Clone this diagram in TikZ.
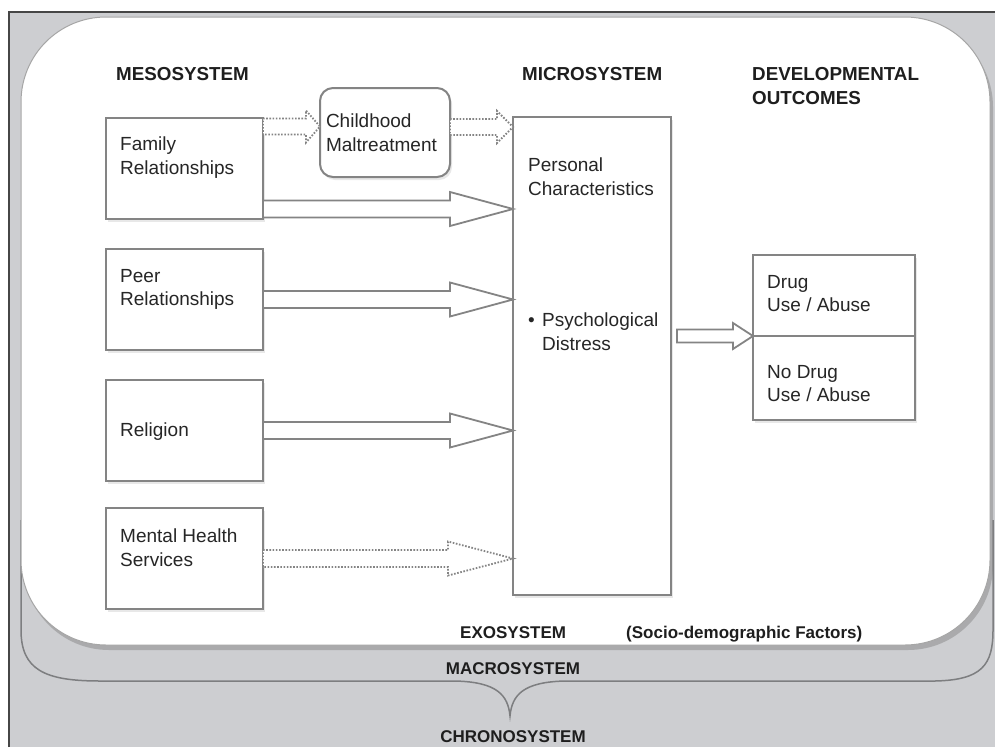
\documentclass[tikz,border=0pt]{standalone}
\usepackage{fontspec}
\setmainfont{Liberation Sans}
\usetikzlibrary{arrows.meta,positioning,shadows,calc}

\definecolor{bggray}{RGB}{205,206,209}
\definecolor{framegray}{RGB}{70,70,70}
\definecolor{linegray}{RGB}{132,132,132}
\definecolor{macgray}{RGB}{125,126,128}
\definecolor{txtgray}{RGB}{38,38,38}
\definecolor{hdrcol}{RGB}{30,30,30}

\newcommand{\boxfont}{\fontsize{19}{23.5}\selectfont}
\newcommand{\hdrfont}{\fontsize{18.8}{24}\selectfont\bfseries}
\newcommand{\sysfont}{\fontsize{17}{20}\selectfont\bfseries}

\begin{document}
\begin{tikzpicture}[
  x=1pt, y=-1pt,
  % --- shared box base ---
  boxbase/.style={
    draw=linegray, line width=2pt, fill=white,
    inner sep=0pt, outer sep=0pt,
    drop shadow={opacity=0.18, shadow xshift=2pt, shadow yshift=-3pt}
  },
  % --- box types ---
  meso/.style={boxbase, minimum width=157pt, minimum height=101pt},
  maltr/.style={boxbase, rounded corners=13pt, minimum width=130pt,
    minimum height=89pt, text width=118pt, inner xsep=6pt,
    align=left, font=\boxfont, text=txtgray},
  microbox/.style={boxbase, minimum width=158pt, minimum height=478pt},
  outbox/.style={boxbase, minimum width=162pt},
  % --- labels ---
  btext/.style={font=\boxfont, text=txtgray, align=left, inner sep=0pt},
  hdr/.style={font=\hdrfont, text=hdrcol, align=left, inner sep=0pt},
  sys/.style={font=\sysfont, text=hdrcol, inner sep=0pt},
  % --- block arrows: shaft half height, head half height, head length ---
  blockarr/.style n args={3}{
    draw=linegray, line width=1.8pt, fill=white, line join=miter,
    to path={let \p1=(\tikztostart), \p2=(\tikztotarget) in
      (\x1,{\y1+#1}) -- ({\x2-#3},{\y1+#1}) -- ({\x2-#3},{\y1+#2})
      -- (\x2,\y1) -- ({\x2-#3},{\y1-#2}) -- ({\x2-#3},{\y1-#1})
      -- (\x1,{\y1-#1}) -- cycle}
  },
  dotarr/.style={dash pattern=on 1.6pt off 1.6pt},
]

\useasboundingbox (0,0) rectangle (995,747);

% ===================== SYSTEM LAYERS =====================

\fill[bggray] (9,12) rectangle (995,747);
\draw[framegray, line width=1.2pt] (9,747) |- (995,12);

% macrosystem brace
\draw[macgray, line width=1.5pt]
  (21,520) -- (21,630) .. controls (21,670) and (45,681) .. (100,681)
  -- (455,681) .. controls (497,682) and (508,695) .. (510,716)
  .. controls (512,695) and (523,682) .. (565,681)
  -- (935,681) .. controls (982,680) and (993,665) .. (993,630) -- (993,520);

% exosystem area
\draw[draw=black!35, line width=1pt, fill=white, rounded corners=85pt,
  drop shadow={opacity=0.45, shadow xshift=3pt, shadow yshift=-5pt}]
  (21,17) rectangle (990,645);

% ===================== HEADINGS =====================

\node[hdr, anchor=west] (mesol) at (116,74) {MESOSYSTEM};
\node[hdr, anchor=west] (microl) at (522,74) {MICROSYSTEM};
\node[hdr, anchor=west] (devl) at (752,86) {DEVELOPMENTAL\\OUTCOMES};

% ===================== MESOSYSTEM =====================

\node[meso] (fam) at (184.5,168.5) {};
\node[btext, below right=19pt and 14pt of fam.north west] (famt) {Family\\Relationships};

\node[meso, below=30pt of fam] (peer) {};
\node[btext, below right=20pt and 14pt of peer.north west] (peert) {Peer\\Relationships};

\node[meso, below=30pt of peer] (rel) {};
\node[btext, below right=43pt and 14pt of rel.north west] (relt) {Religion};

\node[meso, below=27pt of rel] (mhs) {};
\node[btext, below right=21pt and 14pt of mhs.north west] (mhst) {Mental Health\\Services};

\node[maltr] (child) at (385,132.5) {Childhood\\Maltreatment};

% ===================== MICROSYSTEM =====================

\node[microbox] (micro) at (592,356) {};
\node[btext, below right=41pt and 15pt of micro.north west] (pers) {Personal\\Characteristics};
\node[btext, below right=196pt and 15pt of micro.north west] (psych)
  {\makebox[14pt][l]{\textbullet}Psychological\\\hspace*{14pt}Distress};

% ===================== OUTCOMES =====================

\node[outbox, minimum height=81pt] (outa) at (834,295.5) {};
\node[btext, below right=20pt and 14pt of outa.north west] (outat) {Drug\\Use / Abuse};
\node[outbox, minimum height=84pt, below=0pt of outa] (outb) {};
\node[btext, below right=29pt and 14pt of outb.north west] (outbt) {No Drug\\Use / Abuse};

% ===================== BOTTOM LABELS =====================

\node[sys, anchor=base west] (exo) at (460,638) {EXOSYSTEM};
\node[sys, anchor=base west] (socio) at (626,638) {(Socio-demographic Factors)};
\node[sys, anchor=base] (macro) at (513,674) {MACROSYSTEM};
\node[sys, anchor=base] (chrono) at (513,742) {CHRONOSYSTEM};

% ===================== ARROWS =====================

\draw[blockarr={8pt}{16pt}{14pt}, dotarr] ([yshift=-8.5pt]fam.north east) to (child.west);
\draw[blockarr={8pt}{16pt}{16pt}, dotarr] ([yshift=5.5pt]child.east) to (micro.west);

\draw[blockarr={8.5pt}{17pt}{63pt}] ([yshift=10pt]fam.south east) to (micro.west);
\draw[blockarr={8.5pt}{17pt}{63pt}] (peer.east) to (micro.west);
\draw[blockarr={8.5pt}{17pt}{63pt}] (rel.east) to (micro.west);
\draw[blockarr={8.5pt}{17pt}{65pt}, dotarr] (mhs.east) to (micro.west);

\coordinate (mo) at ($(micro.east |- outa.south)+(6,0)$);
\draw[blockarr={6.5pt}{13pt}{20pt}] (mo) to (outa.south west);

\end{tikzpicture}
\end{document}
